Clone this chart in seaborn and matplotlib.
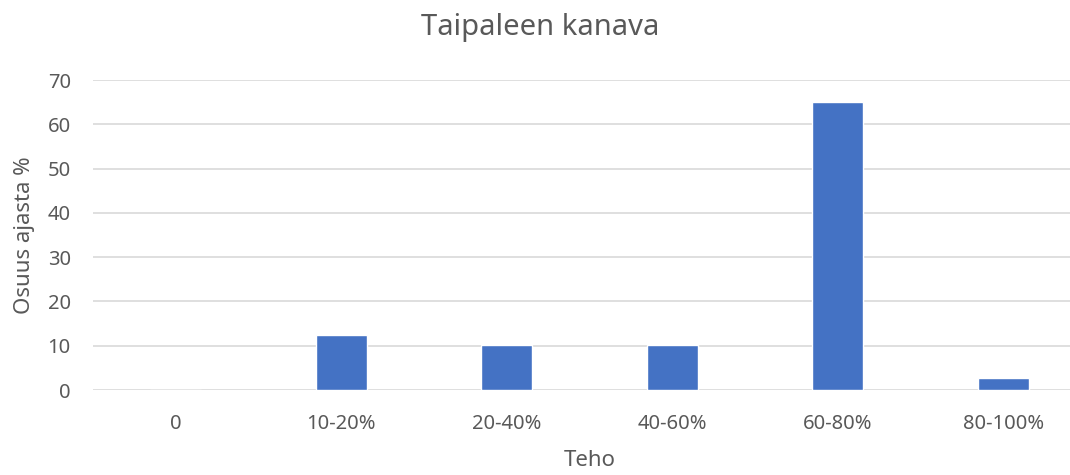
import matplotlib
matplotlib.use("Agg")
import matplotlib.pyplot as plt
import seaborn as sns
import pandas as pd

categories = ["0", "10-20%", "20-40%", "40-60%", "60-80%", "80-100%"]
values = [0.0, 12.4, 10.1, 10.1, 65.1, 2.7]
yticks = [0, 10, 20, 30, 40, 50, 60, 70]

sns.set_theme(style="white")
plt.rcParams['font.family'] = ['Noto Sans', 'DejaVu Sans']

df = pd.DataFrame({"Teho": categories, "Osuus": values})

fig = plt.figure(figsize=(10.7, 4.75), dpi=100)
ax = fig.add_axes([93/1070, 85/475, 993/1070, 310/475])

sns.barplot(data=df, x="Teho", y="Osuus", color="#4472C4", width=0.31,
            saturation=1, ax=ax, zorder=3)

ax.set_ylim(0, 70)
ax.set_yticks(yticks)
ax.yaxis.grid(True, color="#D9D9D9", linewidth=1.2, zorder=0)
ax.xaxis.grid(False)
for s in ax.spines.values():
    s.set_visible(False)
ax.tick_params(axis="both", length=0, labelsize=14.5, labelcolor="#595959")
ax.tick_params(axis="y", pad=16)
ax.tick_params(axis="x", pad=17)
ax.set_xlabel("Teho", fontsize=16, color="#595959", labelpad=12)
ax.set_ylabel("Osuus ajasta %", fontsize=16, color="#595959", labelpad=9)
ax.set_xlim(-0.5, 5.5)

fig.text(540/1070, 1 - 28/475, "Taipaleen kanava", ha="center", va="center",
         fontsize=21, color="#595959")

fig.savefig("out.png", dpi=100)
